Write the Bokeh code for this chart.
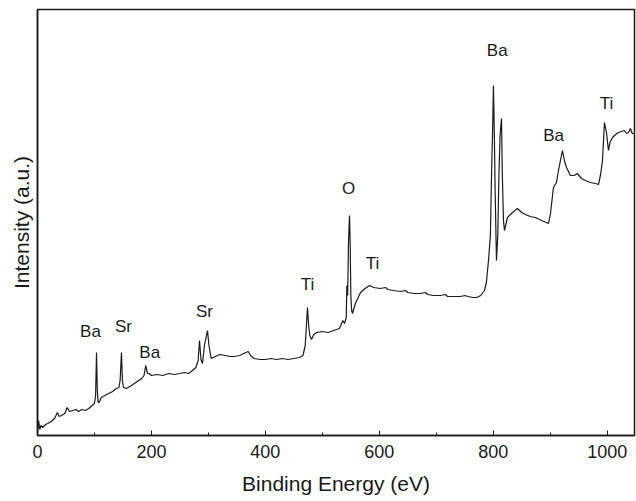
from bokeh.plotting import figure
from bokeh.models import Range1d, FixedTicker, ColumnDataSource
from bokeh.core.properties import value
from bokeh.embed import file_html
from bokeh.resources import INLINE

# Survey XPS spectrum (binding energy in eV, intensity in arbitrary units)
energy = [0, 2, 4, 6, 9, 14, 18, 24, 30, 35, 38, 42, 48, 52, 56, 62, 68, 72, 78, 84, 90, 96, 100,
          102, 103.6, 105, 106.5, 108, 112, 118, 125, 132, 138, 143, 145, 147.4, 149, 151, 156, 165,
          175, 183, 187, 190, 193, 196, 200, 210, 220, 230, 240, 250, 258, 265, 272, 278, 282, 284.4,
          287, 289.6, 293, 298.4, 301, 305, 312, 320, 330, 338, 345, 355, 362, 370, 374, 380, 391,
          400, 410, 420, 430, 440, 450, 460, 466, 470, 473.9, 476, 478, 481, 485, 490, 500, 510, 520,
          530, 536, 539, 542, 543, 544.5, 546, 547.7, 549, 550, 551.5, 553, 558, 567, 575, 583, 590,
          602, 611, 615, 625, 637, 646, 650, 660, 672, 681, 685, 695, 707, 716, 720, 730, 742, 751,
          755, 765, 771, 778, 784.6,
          788, 791.7, 795, 797, 798.7, 800.4, 802, 803.5, 805.7, 808, 810, 812, 814.5, 816, 818,
          819.7, 825, 833.8, 842.5, 850, 856.6, 865, 874, 885, 897, 900.5, 905.7, 911, 914.5, 918,
          921.5, 925, 928.6, 935.6, 942, 947.9, 955, 961.9, 970, 979.5, 984.7, 988.2, 991.8, 995.3,
          998.8, 1002.3, 1005, 1009.3, 1015, 1019.8, 1025, 1030.4, 1034, 1037.4, 1040.9, 1044, 1048]
intensity = [3, 15, 6, 10, 8, 11, 12, 14, 17, 23, 19, 20, 22, 28, 24, 25, 26, 24, 26, 25, 27, 30, 32,
             40, 83, 45, 33, 33, 38, 40, 42, 44, 47, 48, 55, 83, 55, 48, 47, 50,
             54, 57, 60, 70, 62, 62, 60, 61, 60, 62, 61, 62, 63, 62, 65, 68, 75, 95,
             76, 72, 90, 105, 90, 77, 79, 81, 80, 79, 79, 80, 82, 84, 80, 77, 76,
             76, 77, 76, 77, 76, 77, 78, 80, 90, 128, 110, 100, 96, 101, 103, 104, 103, 105,
             107, 115, 112, 118, 150, 140, 195, 220, 190, 140, 125, 122, 132, 143, 147, 150, 148,
             147, 148, 146, 145, 144, 145, 143, 142, 142, 143, 141, 140, 140, 141, 139, 139, 139, 140,
             139, 138, 138, 140, 145,
             153, 175, 200, 260, 300, 350, 300, 240, 175, 200, 260, 300, 317, 260, 215,
             205, 218, 223, 227, 223, 221, 219, 218, 215, 212, 222, 248, 253, 265, 275,
             285, 275, 268, 260, 260, 262, 257, 255, 253, 252, 251, 260, 275, 313,
             303, 285, 293, 298, 301, 303, 304, 305, 302, 303, 307, 302, 302]

peak_labels = ["Ba", "Sr", "Ba", "Sr", "Ti", "O", "Ti", "Ba", "Ba", "Ti"]
label_energy = [93, 151, 197, 293, 474, 546, 588, 807, 906, 999]
label_intensity = [104, 109, 83, 124, 151, 247, 172, 385, 300, 332]

x_ticks = [0, 200, 400, 600, 800, 1000]

p = figure(width=636, height=501, output_backend="svg", toolbar_location=None,
           x_range=Range1d(0, 1048), y_range=Range1d(0, 426),
           min_border_left=37, min_border_right=2, min_border_top=9, min_border_bottom=66)

p.line(energy, intensity, line_color="#1a1a1a", line_width=1.2)

src = ColumnDataSource(dict(x=label_energy, y=label_intensity, t=peak_labels))
p.text(x="x", y="y", text="t", source=src, text_align="center", text_baseline="middle",
       text_font=value("Liberation Sans"), text_font_size="17px", text_color="#1a1a1a")

p.grid.visible = False
p.background_fill_color = "white"
p.border_fill_color = "white"
p.outline_line_color = "#1a1a1a"
p.outline_line_width = 1.5

xa = p.xaxis[0]
xa.ticker = FixedTicker(ticks=x_ticks, minor_ticks=[100, 300, 500, 700, 900])
xa.major_tick_in = 5
xa.major_tick_out = 0
xa.minor_tick_in = 3
xa.minor_tick_out = 0
xa.major_tick_line_color = "#1a1a1a"
xa.minor_tick_line_color = "#1a1a1a"
xa.axis_line_color = "#1a1a1a"
xa.axis_line_width = 1.5
xa.major_label_text_font = "Liberation Sans"
xa.major_label_text_font_size = "18px"
xa.major_label_text_color = "#1a1a1a"
xa.major_label_standoff = 9
xa.axis_label = "Binding Energy (eV)"
xa.axis_label_text_font = "Liberation Sans"
xa.axis_label_text_font_size = "21px"
xa.axis_label_text_font_style = "normal"
xa.axis_label_text_color = "#1a1a1a"
xa.axis_label_standoff = 11

ya = p.yaxis[0]
ya.ticker = FixedTicker(ticks=[])
ya.major_tick_in = 0
ya.major_tick_out = 0
ya.minor_tick_in = 0
ya.minor_tick_out = 0
ya.axis_line_color = "#1a1a1a"
ya.axis_line_width = 1.5
ya.axis_label = "Intensity (a.u.)"
ya.axis_label_text_font = "Liberation Sans"
ya.axis_label_text_font_size = "21px"
ya.axis_label_text_font_style = "normal"
ya.axis_label_text_color = "#1a1a1a"
ya.axis_label_standoff = 5

open("out.html", "w").write(file_html(p, INLINE))
